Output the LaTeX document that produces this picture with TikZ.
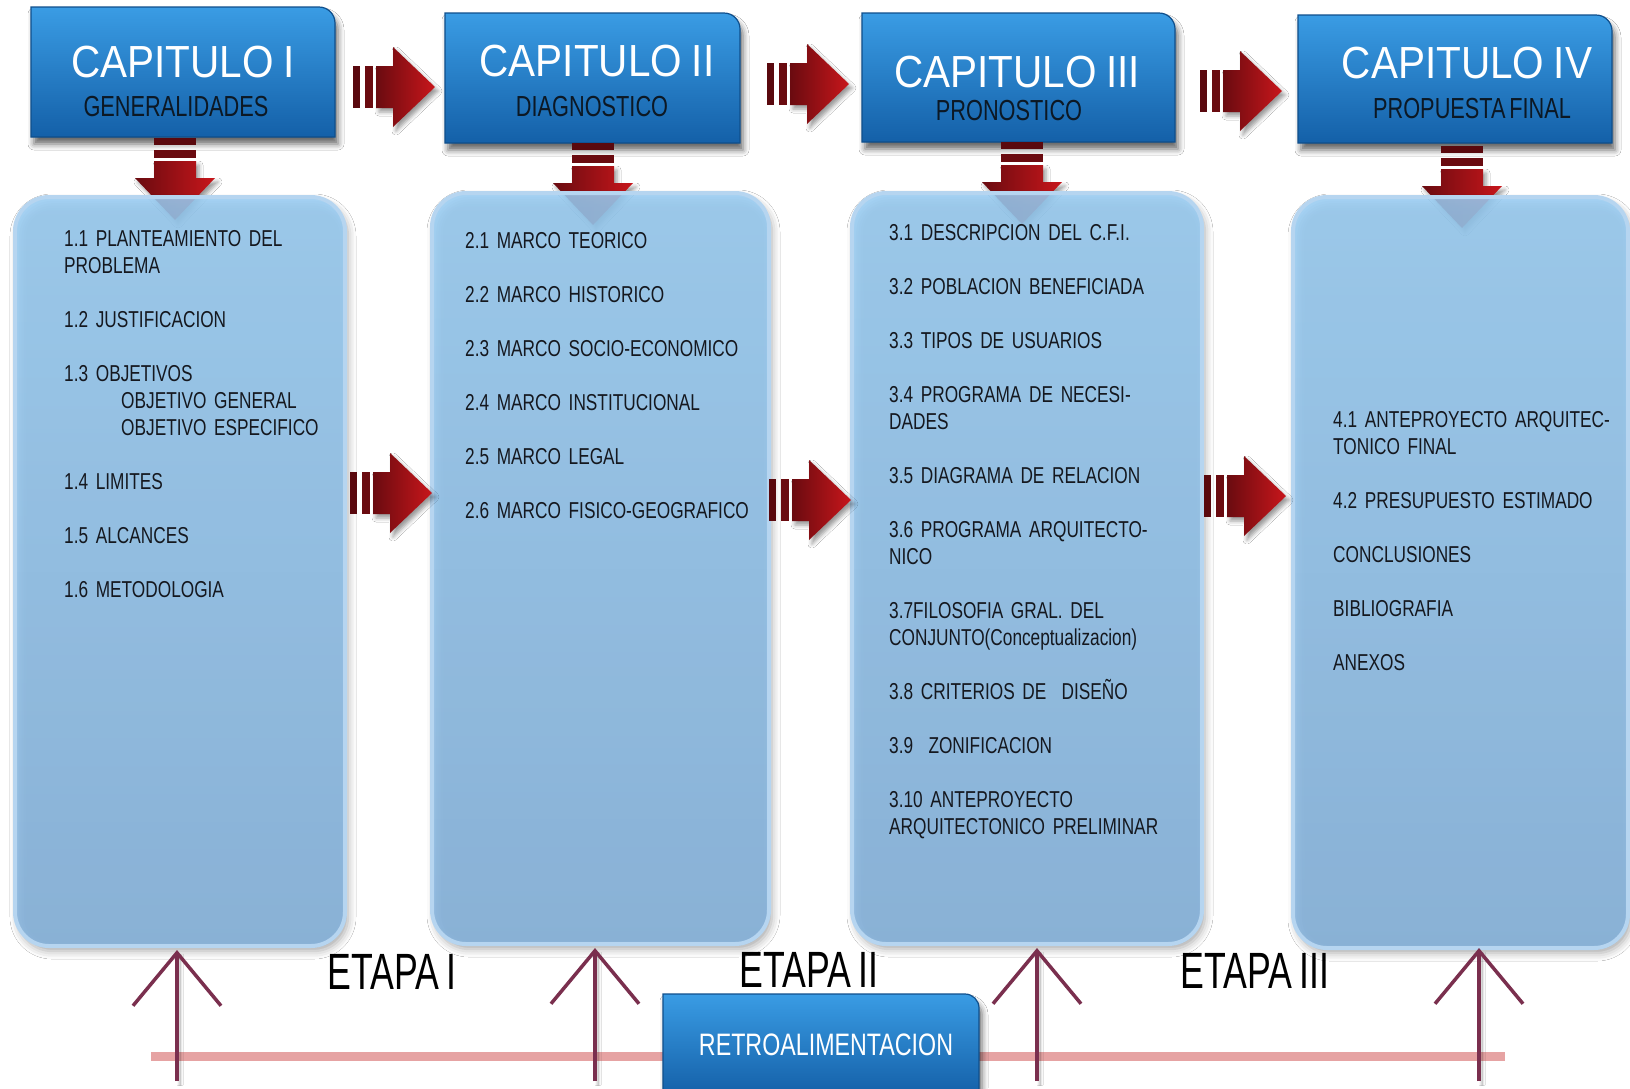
\documentclass[tikz,border=0pt]{standalone}
\usepackage{fontspec}
\setmainfont{Liberation Sans}
\newfontfamily\narrowsf[FakeStretch=0.75, WordSpace=0.6]{Liberation Sans}
\newfontfamily\titlesf[FakeStretch=0.9, WordSpace=0.85]{Liberation Sans}
\newfontfamily\etapasf[FakeStretch=0.7, WordSpace=0.7]{Liberation Sans}
\usetikzlibrary{arrows.meta, shadows.blur}

\definecolor{capbluelight}{HTML}{3A9CE4}
\definecolor{capbluedark}{HTML}{1460A8}
\definecolor{capedge}{HTML}{0F4F8C}
\definecolor{subdark}{HTML}{0C1824}
\definecolor{boxtop}{HTML}{99CEF5}
\definecolor{boxbot}{HTML}{84B3DE}
\definecolor{boxedge}{HTML}{B6D5F0}
\definecolor{itemdark}{HTML}{15181F}
\definecolor{arrowred}{HTML}{C8161B}
\definecolor{arrowdark}{HTML}{6A0B10}
\definecolor{upmaroon}{HTML}{7A2F4E}
\definecolor{feedpink}{HTML}{E6A3A3}

\begin{document}
\begin{tikzpicture}
  [x=1pt, y=-1pt,
   capbox/.style={top color=capbluelight, bottom color=capbluedark, draw=capedge, line width=1.2pt,
     blur shadow={shadow xshift=3pt, shadow yshift=-7pt, shadow blur radius=6pt, shadow opacity=60}},
   captitle/.style={inner sep=0pt, text=white, font=\titlesf\fontsize{45}{50}\selectfont},
   capsub/.style={inner sep=0pt, text=subdark, font=\narrowsf\fontsize{29}{33}\selectfont},
   itembox/.style={rectangle, rounded corners=34pt, top color=boxtop, bottom color=boxbot, draw=boxedge,
     line width=4pt, fill opacity=0.85, blur shadow={shadow xshift=3pt, shadow yshift=-5pt, shadow blur radius=8pt}},
   itemlist/.style={anchor=base west, inner sep=0pt, text width=300pt, align=left, text=itemdark,
     font=\narrowsf\fontsize{23}{27}\selectfont},
   etapa/.style={inner sep=0pt, text=black, font=\etapasf\fontsize{51}{56}\selectfont},
   uparrow/.style={draw=upmaroon, line width=3.5pt, -{Straight Barb[length=53pt, width=88pt]},
     blur shadow={shadow xshift=3pt, shadow yshift=-4pt, shadow blur radius=3pt}},
   feedline/.style={draw=feedpink, line width=9pt},
   redarrow/.pic={
     \fill[arrowdark!85!black] (0,-21) rectangle (7,21);
     \fill[arrowdark] (12,-21) rectangle (20,21);
     \path[left color=arrowdark, right color=arrowred, blur shadow={shadow xshift=3pt, shadow yshift=-4pt, shadow blur radius=4pt}]
       (23,-21) -- (40,-21) -- (40,-40) -- (82,0) -- (40,40) -- (40,21) -- (23,21) -- cycle;
   }]

  \useasboundingbox (0,0) rectangle (1630,1088);
  \fill[white] (0,0) rectangle (1630,1088);

  \path[capbox] (31,137) -- (31,7) [rounded corners=16pt] -- (335,7) [sharp corners] -- (335,137) -- cycle;
  \path[capbox] (445,143) -- (445,13) [rounded corners=16pt] -- (740,13) [sharp corners] -- (740,143) -- cycle;
  \path[capbox] (862,142) -- (862,13) [rounded corners=16pt] -- (1175,13) [sharp corners] -- (1175,142) -- cycle;
  \path[capbox] (1298,143) -- (1298,15) [rounded corners=16pt] -- (1612,15) [sharp corners] -- (1612,143) -- cycle;

  \node[captitle] (title1) at (183,62) {CAPITULO I};
  \node[capsub] (sub1) at (176,107) {GENERALIDADES};
  \node[captitle] (title2) at (597,61) {CAPITULO II};
  \node[capsub] (sub2) at (592,107) {DIAGNOSTICO};
  \node[captitle] (title3) at (1017,72) {CAPITULO III};
  \node[capsub] (sub3) at (1009,111) {PRONOSTICO};
  \node[captitle] (title4) at (1467,63) {CAPITULO IV};
  \node[capsub] (sub4) at (1472,109) {PROPUESTA FINAL};

  \pic (next1) at (353,87) {redarrow};
  \pic (next2) at (767,84) {redarrow};
  \pic (next3) at (1200,91) {redarrow};

  \pic[rotate=-90] (down1) at (175,138) {redarrow};
  \pic[rotate=-90] (down2) at (593,143) {redarrow};
  \pic[rotate=-90] (down3) at (1022,142) {redarrow};
  \pic[rotate=-90] (down4) at (1462,146) {redarrow};

  \node[itembox, minimum width=330pt, minimum height=749pt] (box1) at (180,571.5) {};
  \node[itembox, minimum width=337pt, minimum height=751pt] (box2) at (600.5,568.5) {};
  \node[itembox, minimum width=350pt, minimum height=751pt] (box3) at (1027,568.5) {};
  \node[itembox, minimum width=335pt, minimum height=751pt] (box4) at (1460.5,572.5) {};

  \node[itemlist] (items1) at (64,246) {1.1 PLANTEAMIENTO DEL\\
    PROBLEMA\\[27pt]
    1.2 JUSTIFICACION\\[27pt]
    1.3 OBJETIVOS\\
    \hspace*{57pt}OBJETIVO GENERAL\\
    \hspace*{57pt}OBJETIVO ESPECIFICO\\[27pt]
    1.4 LIMITES\\[27pt]
    1.5 ALCANCES\\[27pt]
    1.6 METODOLOGIA};
  \node[itemlist] (items2) at (465,248) {2.1 MARCO TEORICO\\[27pt]
    2.2 MARCO HISTORICO\\[27pt]
    2.3 MARCO SOCIO-ECONOMICO\\[27pt]
    2.4 MARCO INSTITUCIONAL\\[27pt]
    2.5 MARCO LEGAL\\[27pt]
    2.6 MARCO FISICO-GEOGRAFICO};
  \node[itemlist] (items3) at (889,240) {3.1 DESCRIPCION DEL C.F.I.\\[27pt]
    3.2 POBLACION BENEFICIADA\\[27pt]
    3.3 TIPOS DE USUARIOS\\[27pt]
    3.4 PROGRAMA DE NECESI-\\
    DADES\\[27pt]
    3.5 DIAGRAMA DE RELACION\\[27pt]
    3.6 PROGRAMA ARQUITECTO-\\
    NICO\\[27pt]
    3.7FILOSOFIA GRAL. DEL\\
    CONJUNTO(Conceptualizacion)\\[27pt]
    3.8 CRITERIOS DE~~DISEÑO\\[27pt]
    3.9~~ZONIFICACION\\[27pt]
    3.10 ANTEPROYECTO\\
    ARQUITECTONICO PRELIMINAR};
  \node[itemlist] (items4) at (1333,427) {4.1 ANTEPROYECTO ARQUITEC-\\
    TONICO FINAL\\[27pt]
    4.2 PRESUPUESTO ESTIMADO\\[27pt]
    CONCLUSIONES\\[27pt]
    BIBLIOGRAFIA\\[27pt]
    ANEXOS};

  \pic (step1) at (350,493) {redarrow};
  \pic (step2) at (769,500) {redarrow};
  \pic (step3) at (1204,496) {redarrow};

  \coordinate (feedl) at (151,1056);
  \coordinate (feedr) at (1505,1056);
  \draw[feedline] (feedl) -- (feedr);

  \path[capbox] (663,1095) -- (663,994) [rounded corners=14pt] -- (979,994) [sharp corners] -- (979,1095) -- cycle;
  \node[inner sep=0pt, text=white, font=\narrowsf\fontsize{31}{35}\selectfont] (retro) at (826,1045) {RETROALIMENTACION};

  \coordinate (foot1) at (177,1081);
  \coordinate (foot2) at (595,1081);
  \coordinate (foot3) at (1037,1081);
  \coordinate (foot4) at (1479,1081);
  \coordinate (tip1) at (177,950);
  \coordinate (tip2) at (595,948);
  \coordinate (tip3) at (1037,948);
  \coordinate (tip4) at (1479,948);
  \draw[uparrow] (foot1) -- (tip1);
  \draw[uparrow] (foot2) -- (tip2);
  \draw[uparrow] (foot3) -- (tip3);
  \draw[uparrow] (foot4) -- (tip4);

  \node[etapa] (etapa1) at (392,972) {ETAPA I};
  \node[etapa] (etapa2) at (809,970) {ETAPA II};
  \node[etapa] (etapa3) at (1255,971) {ETAPA III};

\end{tikzpicture}
\end{document}
